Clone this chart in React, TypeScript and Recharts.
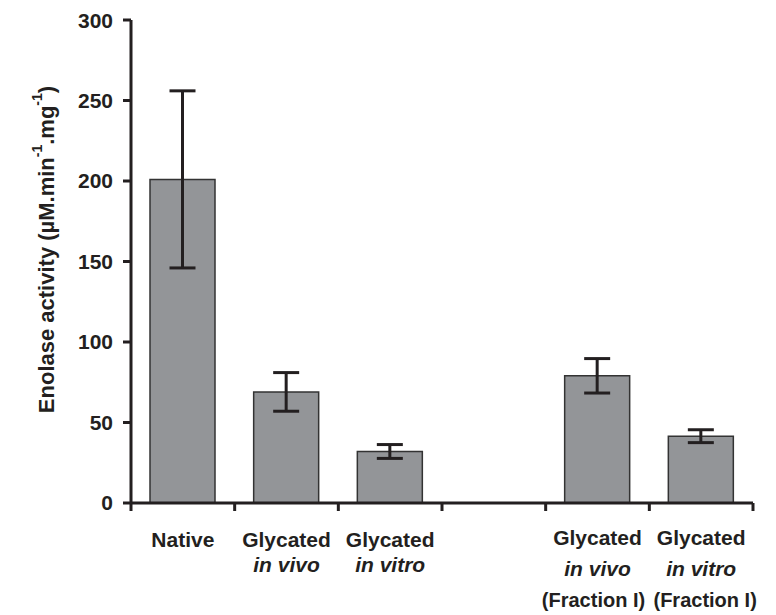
import React from 'react';
import { BarChart, Bar, XAxis, YAxis, ErrorBar } from 'recharts';

// values (µM.min-1.mg-1), the 4th slot is an empty spacer
const categories = ['Native', 'Glycated in vivo', 'Glycated in vitro', '', 'Glycated in vivo (Fraction I)', 'Glycated in vitro (Fraction I)'];
const activity = [201, 69, 32, null, 79, 41.5];
const errors = [55, 12, 4.3, null, 10.7, 4];
const yTicks = [0, 50, 100, 150, 200, 250, 300];

// tick label lines: [text, italic]
const labelLines: [string, boolean][][] = [
  [['Native', false]],
  [['Glycated', false], ['in vivo', true]],
  [['Glycated', false], ['in vitro', true]],
  [],
  [['Glycated', false], ['in vivo', true], ['(Fraction I)', false]],
  [['Glycated', false], ['in vitro', true], ['(Fraction I)', false]],
];

const data = categories.map((name, i) => ({ name, activity: activity[i], err: errors[i] }));

const INK = '#231f20';
const FONT = '"Liberation Sans", Arial, Helvetica, sans-serif';
const W = 760;
const H = 607;
const MARGIN = { top: 12, right: 15, left: 63, bottom: 5 };
const Y_W = 60;
const BAND = (W - MARGIN.left - MARGIN.right - Y_W) / categories.length;

const CategoryTick = (props: any) => {
  const { x, y, index } = props;
  const lines = labelLines[index] || [];
  const gap = index >= 4 ? 31 : 25;
  const first = index >= 4 ? 42 : 44;
  // the two "(Fraction I)" lines nearly touch; nudge them apart a little
  const nudge = index === 4 ? -4 : index === 5 ? 4 : 0;
  return (
    <g>
      <line x1={x - BAND / 2} x2={x - BAND / 2} y1={y} y2={y + 8} stroke={INK} strokeWidth={3} />
      {index === categories.length - 1 && (
        <line x1={x + BAND / 2} x2={x + BAND / 2} y1={y} y2={y + 8} stroke={INK} strokeWidth={3} />
      )}
      <text textAnchor="middle" fontFamily={FONT} fontSize={21} fontWeight="bold" fill={INK}>
        {lines.map(([t, it], i) => (
          <tspan
            key={i}
            x={x + (i === 2 ? nudge : 0)}
            y={y + first + i * gap}
            fontStyle={it ? 'italic' : 'normal'}
            fontSize={i === 2 ? 20 : 21}
          >
            {t}
          </tspan>
        ))}
      </text>
    </g>
  );
};

const YLabel = (props: any) => {
  const { viewBox } = props;
  const cx = 38;
  const cy = viewBox.y + viewBox.height / 2 - 12;
  return (
    <text
      transform={`rotate(-90 ${cx} ${cy})`}
      x={cx}
      y={cy}
      textAnchor="middle"
      dominantBaseline="central"
      fontFamily={FONT}
      fontSize={22}
      fontWeight="bold"
      fill={INK}
    >
      Enolase activity (µM.min
      <tspan dy={-9} fontSize={14}>-1</tspan>
      <tspan dy={9}>.mg</tspan>
      <tspan dy={-9} fontSize={14}>-1</tspan>
      <tspan dy={9}>)</tspan>
    </text>
  );
};

export default function App() {
  return (
    <BarChart width={W} height={H} data={data} margin={MARGIN} barSize={65}>
      <XAxis
        dataKey="name"
        interval={0}
        tickSize={0}
        tickMargin={0}
        tickLine={false}
        height={107}
        axisLine={{ stroke: INK, strokeWidth: 3 }}
        tick={<CategoryTick />}
      />
      <YAxis
        domain={[0, 300]}
        ticks={yTicks}
        width={Y_W}
        tickSize={8}
        tickMargin={10}
        axisLine={{ stroke: INK, strokeWidth: 3 }}
        tickLine={{ stroke: INK, strokeWidth: 3 }}
        tick={{ fontFamily: FONT, fontSize: 21, fontWeight: 'bold', fill: INK }}
        label={<YLabel />}
      />
      <Bar dataKey="activity" fill="#939598" stroke="#333" strokeWidth={1.5} isAnimationActive={false}>
        <ErrorBar dataKey="err" width={13} strokeWidth={3} stroke={INK} />
      </Bar>
    </BarChart>
  );
}
